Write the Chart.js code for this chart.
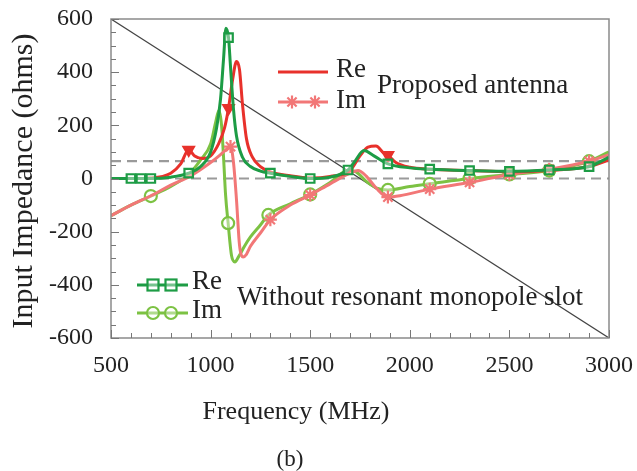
<!DOCTYPE html>
<html>
<head>
<meta charset="utf-8">
<script src="https://cdn.jsdelivr.net/npm/chart.js@4.4.0/dist/chart.umd.min.js"></script>
<style>
  html, body { margin: 0; padding: 0; background: #fff; }
</style>
</head>
<body>
<canvas id="chart" width="637" height="471"></canvas>
<script>
// Proposed antenna, real part (red)
const reAntF = [500, 600, 700, 800, 850, 890, 920, 960, 1000, 1040, 1070, 1090, 1110, 1130, 1145, 1160, 1180, 1210, 1250, 1300, 1400, 1500, 1600, 1700, 1750, 1790, 1830, 1870, 1890, 1930, 2000, 2100, 2300, 2500, 2700, 2900, 3000];
const reAntV = [0, 0, 2, 20, 55, 108, 85, 75, 85, 130, 190, 265, 370, 440, 410, 280, 150, 80, 45, 25, 10, 2, 8, 30, 85, 118, 122, 95, 88, 60, 42, 35, 30, 25, 30, 45, 70];
const reAntMarks = [890, 1090, 1890];

// Proposed antenna, imaginary part (pink)
const imAntF = [500, 600, 700, 800, 900, 1000, 1050, 1080, 1100, 1115, 1130, 1145, 1163, 1180, 1200, 1250, 1300, 1400, 1500, 1600, 1700, 1740, 1780, 1830, 1890, 1950, 2100, 2300, 2500, 2700, 2900, 3000];
const imAntV = [-140, -100, -65, -25, 10, 60, 90, 110, 120, 60, -80, -250, -295, -285, -255, -205, -155, -100, -62, -20, 20, 30, 10, -35, -70, -65, -40, -15, 15, 35, 65, 90];
const imAntMarks = [1100, 1300, 1500, 1890, 2100, 2300, 2500, 2700, 2900];

// Without resonant monopole slot, real part (dark green)
const reSlotF = [500, 600, 650, 700, 800, 890, 950, 1000, 1030, 1050, 1065, 1077, 1090, 1100, 1115, 1130, 1160, 1200, 1250, 1300, 1400, 1500, 1600, 1690, 1720, 1770, 1820, 1890, 2000, 2100, 2300, 2500, 2700, 2900, 3000];
const reSlotV = [0, 0, 0, 0, 5, 20, 45, 100, 190, 300, 450, 565, 530, 420, 260, 160, 80, 45, 28, 20, 8, 0, 5, 32, 60, 105, 85, 55, 40, 35, 30, 27, 32, 45, 80];
const reSlotMarks = [600, 650, 700, 890, 1090, 1300, 1500, 1690, 1890, 2100, 2300, 2500, 2700, 2900];

// Without resonant monopole slot, imaginary part (light green)
const imSlotF = [500, 600, 700, 800, 890, 950, 1000, 1025, 1042, 1055, 1065, 1075, 1088, 1105, 1122, 1140, 1170, 1200, 1250, 1290, 1400, 1500, 1600, 1690, 1730, 1780, 1830, 1890, 2000, 2100, 2300, 2500, 2700, 2900, 3000];
const imSlotV = [-140, -100, -66, -30, 15, 70, 130, 210, 257, 200, 80, -60, -168, -290, -314, -295, -255, -220, -175, -137, -95, -60, -15, 30, 25, -10, -35, -43, -30, -20, 0, 15, 30, 65, 100];
const imSlotMarks = [700, 1088, 1290, 1500, 1890, 2100, 2300, 2500, 2700, 2900];

// reference lines
const diagF = [500, 3000];
const diagV = [600, -600];
const dashLevels = [0, 65];

const xTicks = [500, 1000, 1500, 2000, 2500, 3000];
const yTicks = [-600, -400, -200, 0, 200, 400, 600];

const SERIF = '"Liberation Serif", "DejaVu Serif", serif';
const RED = '#e8312b', PINK = '#f27777', DGREEN = '#1d9c45', LGREEN = '#7cc243';

function pts(F, V){ return F.map((f, i) => ({x: f, y: V[i]})); }
function radii(F, marks, r){ return F.map(f => marks.includes(f) ? r : 0); }

function curve(label, F, V, marks, color, style, extra){
  return Object.assign({
    label: label,
    data: pts(F, V),
    borderColor: color,
    borderWidth: 3,
    cubicInterpolationMode: 'monotone',
    pointRadius: radii(F, marks, 6),
    pointStyle: style,
    pointBorderColor: color,
    pointBorderWidth: 2.2,
    pointBackgroundColor: 'rgba(255,255,255,0.4)',
    fill: false
  }, extra || {});
}

const datasets = [];
dashLevels.forEach(lv => {
  datasets.push({
    label: 'ref' + lv,
    data: pts(diagF, [lv, lv]),
    borderColor: '#9a9a9a',
    borderWidth: 2.2,
    borderDash: [10, 6],
    pointRadius: 0,
    order: 10
  });
});
datasets.push({
  label: 'diag',
  data: pts(diagF, diagV),
  borderColor: '#444',
  borderWidth: 1.2,
  pointRadius: 0,
  order: 9
});
datasets.push(curve('Im slot', imSlotF, imSlotV, imSlotMarks, LGREEN, 'circle', {order: 4}));
datasets.push(curve('Im', imAntF, imAntV, imAntMarks, PINK, 'star', {order: 3, pointRadius: radii(imAntF, imAntMarks, 6.5)}));
datasets.push(curve('Re slot', reSlotF, reSlotV, reSlotMarks, DGREEN, 'rect', {order: 1}));
datasets.push(curve('Re', reAntF, reAntV, reAntMarks, RED, 'triangle', {order: 2, pointRotation: 180, pointBackgroundColor: RED}));

// ---- drawing helpers for legend markers
function drawMarker(ctx, kind, x, y, color){
  ctx.save();
  ctx.strokeStyle = color; ctx.lineWidth = 2.2;
  ctx.fillStyle = 'rgba(255,255,255,0.4)';
  if(kind === 'rect'){
    ctx.fillRect(x-5.5, y-5.5, 11, 11); ctx.strokeRect(x-5.5, y-5.5, 11, 11);
  } else if(kind === 'circle'){
    ctx.beginPath(); ctx.arc(x, y, 6, 0, Math.PI*2); ctx.fill(); ctx.stroke();
  } else if(kind === 'star'){
    ctx.beginPath();
    for(let a = 0; a < 4; a++){
      const t = a * Math.PI/4;
      ctx.moveTo(x - 6.5*Math.cos(t), y - 6.5*Math.sin(t));
      ctx.lineTo(x + 6.5*Math.cos(t), y + 6.5*Math.sin(t));
    }
    ctx.stroke();
  }
  ctx.restore();
}

const decor = {
  id: 'decor',
  afterDraw(chart){
    const ctx = chart.ctx, a = chart.chartArea;
    const xs = chart.scales.x, ys = chart.scales.y;
    ctx.save();
    // frame
    ctx.strokeStyle = '#8a8a8a'; ctx.lineWidth = 1.5;
    ctx.strokeRect(a.left, a.top, a.right - a.left, a.bottom - a.top);
    // inner ticks
    ctx.strokeStyle = '#777'; ctx.lineWidth = 1;
    ctx.beginPath();
    for(let f = 500; f <= 3000; f += 100){
      const px = Math.round(xs.getPixelForValue(f)) + 0.5;
      const len = (f % 500 === 0) ? 8 : 5;
      ctx.moveTo(px, a.bottom); ctx.lineTo(px, a.bottom - len);
    }
    for(let v = -600; v <= 600; v += 50){
      const py = Math.round(ys.getPixelForValue(v)) + 0.5;
      const len = (v % 200 === 0) ? 8 : 5;
      ctx.moveTo(a.left, py); ctx.lineTo(a.left + len, py);
    }
    ctx.stroke();

    // legend: proposed antenna
    ctx.lineWidth = 3;
    ctx.strokeStyle = RED;
    ctx.beginPath(); ctx.moveTo(278, 72); ctx.lineTo(328, 72); ctx.stroke();
    ctx.strokeStyle = PINK;
    ctx.beginPath(); ctx.moveTo(278, 102); ctx.lineTo(328, 102); ctx.stroke();
    drawMarker(ctx, 'star', 292, 102, PINK);
    drawMarker(ctx, 'star', 315, 102, PINK);
    // legend: without slot
    ctx.lineWidth = 3;
    ctx.strokeStyle = DGREEN;
    ctx.beginPath(); ctx.moveTo(137, 285); ctx.lineTo(188, 285); ctx.stroke();
    drawMarker(ctx, 'rect', 153, 285, DGREEN);
    drawMarker(ctx, 'rect', 171, 285, DGREEN);
    ctx.lineWidth = 3;
    ctx.strokeStyle = LGREEN;
    ctx.beginPath(); ctx.moveTo(137, 313); ctx.lineTo(188, 313); ctx.stroke();
    drawMarker(ctx, 'circle', 153, 313, LGREEN);
    drawMarker(ctx, 'circle', 171, 313, LGREEN);

    ctx.fillStyle = '#222';
    ctx.textBaseline = 'middle';
    ctx.textAlign = 'left';
    ctx.font = '27px ' + SERIF;
    ctx.fillText('Re', 336, 70);
    ctx.fillText('Im', 336, 101);
    ctx.fillText('Re', 192, 282);
    ctx.fillText('Im', 192, 311);
    ctx.fillText('Proposed antenna', 377, 86);
    ctx.fillText('Without resonant monopole slot', 237, 298);

    // axis titles
    ctx.textAlign = 'center';
    ctx.font = '26px ' + SERIF;
    ctx.fillText('Frequency (MHz)', 296, 412);
    ctx.font = '23px ' + SERIF;
    ctx.fillText('(b)', 290, 460);
    ctx.save();
    ctx.translate(24, 181);
    ctx.rotate(-Math.PI/2);
    ctx.font = '30px ' + SERIF;
    ctx.fillText('Input Impedance (ohms)', 0, 0);
    ctx.restore();
    ctx.restore();
  }
};

new Chart(document.getElementById('chart'), {
  type: 'line',
  data: { datasets: datasets },
  options: {
    responsive: false,
    devicePixelRatio: 1,
    animation: false,
    layout: { padding: { top: 19, right: 28, left: 0, bottom: 0 } },
    plugins: { legend: { display: false }, tooltip: { enabled: false } },
    scales: {
      x: {
        type: 'linear', min: 500, max: 3000,
        afterBuildTicks: s => { s.ticks = xTicks.map(v => ({value: v})); },
        afterFit: s => { s.height = 133; s.paddingLeft = 0; s.paddingRight = 0; },
        grid: { display: false, drawTicks: false },
        border: { display: false },
        ticks: { color: '#222', font: { family: SERIF, size: 24 }, padding: 13, maxRotation: 0,
                 callback: v => String(v) }
      },
      y: {
        type: 'linear', min: -600, max: 600,
        afterBuildTicks: s => { s.ticks = yTicks.map(v => ({value: v})); },
        afterFit: s => { s.width = 111; s.paddingTop = 0; s.paddingBottom = 0; },
        grid: { display: false, drawTicks: false },
        border: { display: false },
        ticks: { color: '#222', font: { family: SERIF, size: 24 }, padding: 18,
                 callback: v => String(v) }
      }
    }
  },
  plugins: [decor]
});
</script>
</body>
</html>
